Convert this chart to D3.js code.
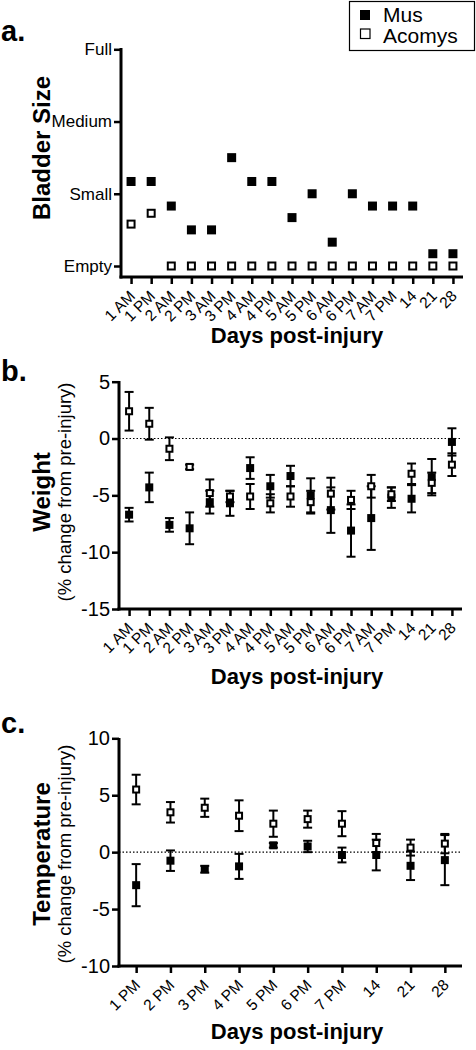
<!DOCTYPE html>
<html><head><meta charset="utf-8">
<script src="https://cdn.jsdelivr.net/npm/d3@7"></script>
<style>
html,body{margin:0;padding:0;background:#fff;}
svg{display:block;}
</style></head>
<body>
<script>
// ---------- DATA ----------
const catsAB = ["1 AM","1 PM","2 AM","2 PM","3 AM","3 PM","4 AM","4 PM","5 AM","5 PM","6 AM","6 PM","7 AM","7 PM","14","21","28"];
const sizeLevels = ["Empty","Small","Medium","Full"];
const bladderMus    = [1.17,1.17,0.83,0.5,0.5,1.5,1.17,1.17,0.67,1.0,0.33,1.0,0.83,0.83,0.83,0.17,0.17];
const bladderAcomys = [0.58,0.73,0,0,0,0,0,0,0,0,0,0,0,0,0,0,0];

const weightTicks = [5,0,-5,-10,-15];
const weightMus       = [-6.7,-4.3,-7.6,-7.9,-5.6,-5.7,-2.6,-4.2,-3.3,-5.0,-6.3,-8.1,-7.0,-5.2,-5.3,-3.4,-0.3];
const weightMusErr    = [0.6,1.3,0.6,1.4,1.0,1.1,0.95,1.0,0.9,1.5,2.0,2.3,2.8,0.9,1.2,1.6,1.2];
const weightAcomys    = [2.4,1.3,-0.9,-2.5,-4.8,-5.1,-5.1,-5.7,-5.1,-5.6,-4.85,-5.4,-4.2,-4.9,-3.1,-3.9,-2.3];
const weightAcomysErr = [1.7,1.4,1.0,0.2,1.2,0.5,1.1,0.8,0.9,1.0,1.4,0.8,1.0,0.6,0.9,0.9,1.0];

const catsC = ["1 PM","2 PM","3 PM","4 PM","5 PM","6 PM","7 PM","14","21","28"];
const tempTicks = [10,5,0,-5,-10];
const tempMus       = [-2.9,-0.75,-1.5,-1.25,0.6,0.5,-0.25,-0.25,-1.2,-0.7];
const tempMusErr    = [1.85,0.9,0.3,1.1,0.2,0.5,0.65,1.35,1.25,2.2];
const tempAcomys    = [5.5,3.5,3.9,3.2,2.5,2.9,2.5,0.8,0.4,0.75];
const tempAcomysErr = [1.3,0.9,0.8,1.35,1.15,0.75,1.1,0.8,0.7,0.85];

const seriesNames = ["Mus","Acomys"];

// ---------- DRAW ----------
const FONT = "'Liberation Sans', Arial, Helvetica, sans-serif";
const W = 476, H = 1050;
const svg = d3.select("body").append("svg").attr("width", W).attr("height", H)
  .attr("font-family", FONT);

function panel(opt){
  const g = svg.append("g");
  const x = d3.scalePoint().domain(opt.cats).range([opt.x0, opt.x1]).padding(0.5);
  const y = d3.scaleLinear().domain(opt.yDomain).range(opt.yRange);
  // y ticks
  const ya = d3.axisLeft(y).tickValues(opt.yTicks).tickSize(7).tickPadding(2)
    .tickFormat(opt.yFormat || (d => d));
  const yg = g.append("g").attr("transform", `translate(${opt.x0},0)`).call(ya);
  yg.attr("font-family", FONT).attr("font-size", opt.yFont);
  yg.select(".domain").remove();
  yg.selectAll(".tick line").attr("stroke","#000").attr("stroke-width",2.5);
  yg.selectAll(".tick text").attr("fill","#000");
  // x ticks
  const xa = d3.axisBottom(x).tickSize(7).tickFormat("");
  const xg = g.append("g").attr("transform", `translate(0,${opt.axisY})`).call(xa);
  xg.select(".domain").remove();
  xg.selectAll(".tick line").attr("stroke","#000").attr("stroke-width",2.5);
  // rotated labels
  g.append("g").selectAll("text").data(opt.cats).join("text")
    .attr("transform", d => `translate(${x(d)+5},${opt.axisY+20}) rotate(-45)`)
    .attr("text-anchor","end").attr("font-size",15.5).attr("fill","#000")
    .text(d => d);
  // zero line
  if (opt.zero){
    g.append("line").attr("x1", opt.x0).attr("x2", opt.x1)
      .attr("y1", y(0)).attr("y2", y(0))
      .attr("stroke","#000").attr("stroke-width",1.1).attr("stroke-dasharray","1.5,2");
  }
  // axis lines
  g.append("line").attr("x1",opt.x0).attr("x2",opt.x0).attr("y1",opt.yTop).attr("y2",opt.axisY+1.5)
    .attr("stroke","#000").attr("stroke-width",3);
  g.append("line").attr("x1",opt.x0-1.5).attr("x2",opt.x1).attr("y1",opt.axisY).attr("y2",opt.axisY)
    .attr("stroke","#000").attr("stroke-width",3);
  // titles
  g.append("text").attr("x", opt.xTitleX).attr("y", opt.xTitleY).attr("text-anchor","middle")
    .attr("font-weight","bold").attr("font-size",22).text("Days post-injury");
  const cy = opt.yTitleCY;
  g.append("text").attr("transform",`translate(${opt.yTitleX},${cy}) rotate(-90)`)
    .attr("text-anchor","middle").attr("font-weight","bold").attr("font-size",24).text(opt.yTitle);
  if (opt.ySub){
    g.append("text").attr("transform",`translate(71,${cy}) rotate(-90)`)
      .attr("text-anchor","middle").attr("font-size",18.5).text(opt.ySub);
  }
  g.append("text").attr("x",1).attr("y",opt.letterY).attr("font-weight","bold")
    .attr("font-size",29).text(opt.letter);

  const s = opt.size, half = s/2, cap = 4.5;
  opt.series.forEach((ser, si) => {
    const sg = g.append("g");
    const pts = ser.vals.map((v,i) => ({c: opt.cats[i], v, e: ser.err ? ser.err[i] : 0}));
    if (ser.err){
      const eb = sg.selectAll("g.eb").data(pts).join("g");
      eb.append("line").attr("x1",d=>x(d.c)).attr("x2",d=>x(d.c))
        .attr("y1",d=>y(d.v+d.e)).attr("y2",d=>y(d.v-d.e)).attr("stroke","#000").attr("stroke-width",2);
      eb.append("line").attr("x1",d=>x(d.c)-cap).attr("x2",d=>x(d.c)+cap)
        .attr("y1",d=>y(d.v+d.e)).attr("y2",d=>y(d.v+d.e)).attr("stroke","#000").attr("stroke-width",2);
      eb.append("line").attr("x1",d=>x(d.c)-cap).attr("x2",d=>x(d.c)+cap)
        .attr("y1",d=>y(d.v-d.e)).attr("y2",d=>y(d.v-d.e)).attr("stroke","#000").attr("stroke-width",2);
    }
    if (si === 0){
      sg.selectAll("rect").data(pts).join("rect")
        .attr("x",d=>x(d.c)-half).attr("y",d=>y(d.v)-half).attr("width",s).attr("height",s)
        .attr("fill","#000");
    } else {
      sg.selectAll("rect").data(pts).join("rect")
        .attr("x",d=>x(d.c)-half+1).attr("y",d=>y(d.v)-half+1).attr("width",s-2).attr("height",s-2)
        .attr("fill","#fff").attr("stroke","#000").attr("stroke-width",2);
    }
  });
}

// Panel a
panel({
  cats: catsAB, x0: 121, x1: 463, axisY: 277, yTop: 48,
  yDomain: [0,3], yRange: [266, 49.3], yTicks: [0,1,2,3], yFormat: d => sizeLevels[d], yFont: 17,
  xTitleX: 297, xTitleY: 343,
  yTitle: "Bladder Size", yTitleX: 50, yTitleCY: 148,
  letter: "a.", letterY: 41, size: 9,
  series: [{vals: bladderMus}, {vals: bladderAcomys}]
});

// Panel b
panel({
  cats: catsAB, x0: 119, x1: 462, axisY: 609, yTop: 381,
  yDomain: [-15,5], yRange: [609, 381.7], yTicks: weightTicks, yFont: 20,
  xTitleX: 297, xTitleY: 684, zero: true,
  yTitle: "Weight", yTitleX: 50, yTitleCY: 492, ySub: "(% change from pre-injury)",
  letter: "b.", letterY: 381, size: 8,
  series: [{vals: weightMus, err: weightMusErr}, {vals: weightAcomys, err: weightAcomysErr}]
});

// Panel c
panel({
  cats: catsC, x0: 119, x1: 462, axisY: 966, yTop: 738,
  yDomain: [-10,10], yRange: [966, 738.3], yTicks: tempTicks, yFont: 20,
  xTitleX: 297, xTitleY: 1039, zero: true,
  yTitle: "Temperature", yTitleX: 50, yTitleCY: 854, ySub: "(% change from pre-injury)",
  letter: "c.", letterY: 733, size: 8,
  series: [{vals: tempMus, err: tempMusErr}, {vals: tempAcomys, err: tempAcomysErr}]
});

// Legend
const lg = svg.append("g");
lg.append("rect").attr("x",349.5).attr("y",1.5).attr("width",125).attr("height",49)
  .attr("fill","#fff").attr("stroke","#000").attr("stroke-width",1.2);
lg.selectAll("text").data(seriesNames).join("text")
  .attr("x",383).attr("y",(d,i)=>21.5+i*21.5).attr("font-size",21).text(d=>d);
lg.append("rect").attr("x",360).attr("y",10).attr("width",10).attr("height",10).attr("fill","#000");
lg.append("rect").attr("x",360.5).attr("y",29).attr("width",9.5).attr("height",9.5)
  .attr("fill","#fff").attr("stroke","#000").attr("stroke-width",1.2);
</script>
</body></html>
